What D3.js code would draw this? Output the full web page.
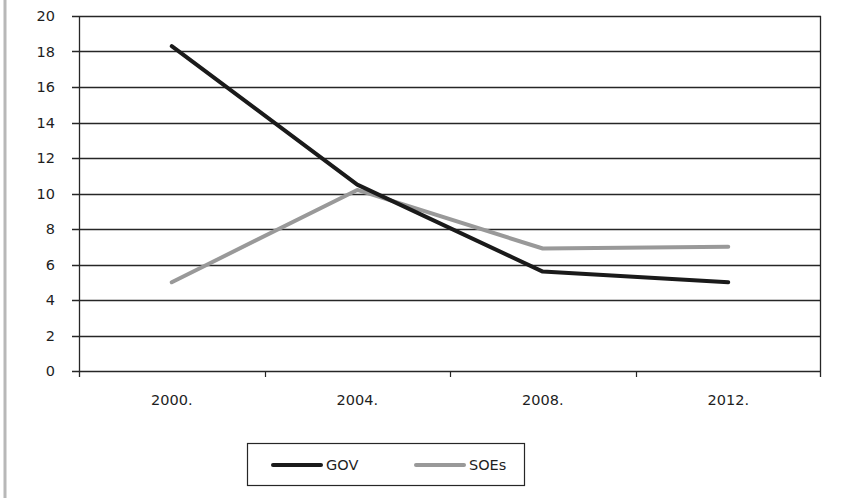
<!DOCTYPE html>
<html><head><meta charset="utf-8">
<script src="https://cdn.jsdelivr.net/npm/d3@7"></script>
<style>html,body{margin:0;padding:0;background:#fff;}svg{display:block;}</style>
</head><body>
<script>
const categories = ["2000.", "2004.", "2008.", "2012."];
const govValues = [18.3, 10.5, 5.6, 5.0];
const soeValues = [5.0, 10.2, 6.9, 7.0];
const yTicks = [0, 2, 4, 6, 8, 10, 12, 14, 16, 18, 20];
const seriesNames = ["GOV", "SOEs"];

(function () {
const W = 844, H = 498;
const pLeft = 79, pRight = 821, pTop = 16, pBottom = 371;
const font = "'DejaVu Sans', sans-serif";
const fs = 14.5;

const svg = d3.select("body").append("svg").attr("width", W).attr("height", H);

svg.append("line").attr("x1", 5).attr("x2", 5).attr("y1", 0).attr("y2", H)
  .attr("stroke", "#b8b8b8").attr("stroke-width", 3);

const x = d3.scaleBand().domain(categories).range([pLeft, pRight]);
const y = d3.scaleLinear().domain([0, 20]).range([pBottom, pTop]);

svg.append("g").selectAll("line").data(yTicks).join("line")
  .attr("x1", pLeft - 7).attr("x2", pRight)
  .attr("y1", d => Math.round(y(d)) + 0.5).attr("y2", d => Math.round(y(d)) + 0.5)
  .attr("stroke", "#262626").attr("stroke-width", 1.3);

svg.append("g").selectAll("text").data(yTicks).join("text")
  .attr("x", 55).attr("y", d => y(d) + 5)
  .attr("text-anchor", "end").attr("font-family", font).attr("font-size", fs)
  .attr("fill", "#1e1e1e").text(d => d);

svg.append("line").attr("x1", pLeft + 0.5).attr("x2", pLeft + 0.5).attr("y1", pTop).attr("y2", pBottom + 6)
  .attr("stroke", "#262626").attr("stroke-width", 1.3);
svg.append("line").attr("x1", pRight - 0.5).attr("x2", pRight - 0.5).attr("y1", pTop).attr("y2", pBottom + 6)
  .attr("stroke", "#262626").attr("stroke-width", 1.3);

const bounds = categories.slice(1).map(c => x(c));
svg.append("g").selectAll("line").data(bounds).join("line")
  .attr("x1", d => Math.round(d) + 0.5).attr("x2", d => Math.round(d) + 0.5)
  .attr("y1", pBottom).attr("y2", pBottom + 6)
  .attr("stroke", "#262626").attr("stroke-width", 1.2);

svg.append("g").selectAll("text").data(categories).join("text")
  .attr("x", d => x(d) + x.bandwidth() / 2).attr("y", 405)
  .attr("text-anchor", "middle").attr("font-family", font).attr("font-size", fs)
  .attr("fill", "#1e1e1e").text(d => d);

const line = d3.line().x((d, i) => x(categories[i]) + x.bandwidth() / 2).y(d => y(d));

svg.append("path").datum(soeValues).attr("d", line)
  .attr("fill", "none").attr("stroke", "#999").attr("stroke-width", 4)
  .attr("stroke-linecap", "round").attr("stroke-linejoin", "round");
svg.append("path").datum(govValues).attr("d", line)
  .attr("fill", "none").attr("stroke", "#1a1a1a").attr("stroke-width", 4)
  .attr("stroke-linecap", "round").attr("stroke-linejoin", "round");

const lg = svg.append("g");
lg.append("rect").attr("x", 247.5).attr("y", 443.5).attr("width", 277).attr("height", 42)
  .attr("fill", "#fff").attr("stroke", "#262626").attr("stroke-width", 1.2);
const legendItems = [
  {name: seriesNames[0], color: "#1a1a1a", x0: 273},
  {name: seriesNames[1], color: "#999", x0: 416}
];
legendItems.forEach(it => {
  lg.append("line").attr("x1", it.x0).attr("x2", it.x0 + 48).attr("y1", 465).attr("y2", 465)
    .attr("stroke", it.color).attr("stroke-width", 4).attr("stroke-linecap", "round");
  lg.append("text").attr("x", it.x0 + 53).attr("y", 470)
    .attr("font-family", font).attr("font-size", fs).attr("fill", "#1e1e1e").text(it.name);
});
})();
</script>
</body></html>
